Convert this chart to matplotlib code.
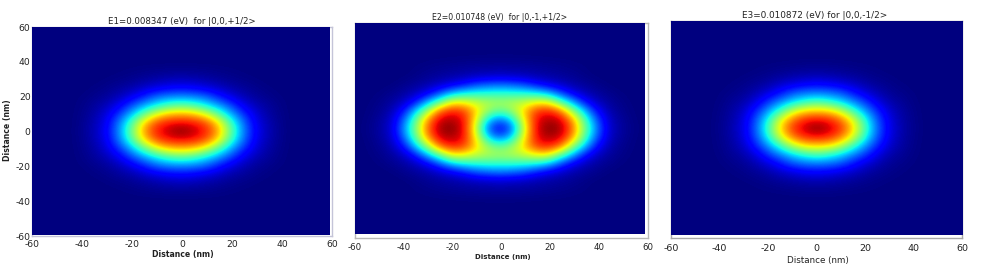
import numpy as np
import matplotlib
matplotlib.use("Agg")
import matplotlib.pyplot as plt

W, H = 981, 273

titles = ["E1=0.008347 (eV)  for |0,0,+1/2>",
          "E2=0.010748 (eV)  for |0,-1,+1/2>",
          "E3=0.010872 (eV) for |0,0,-1/2>"]
x_label = "Distance (nm)"
y_label = "Distance (nm)"
ticks = [-60, -40, -20, 0, 20, 40, 60]

# Upper-right quadrant of each map.
# Rows: y = 0, 5, ... nm; columns: x = 0, 5, ... nm. Beyond the table the map is 0.
e1_quadrant = [
    [1.00, .95, .88, .74, .48, .26, .11, .05, .015, 0],
    [.90, .885, .83, .67, .43, .24, .10, .045, .013, 0],
    [.72, .70, .61, .46, .30, .17, .08, .035, .01, 0],
    [.46, .43, .36, .28, .19, .10, .05, .025, .007, 0],
    [.26, .25, .22, .15, .09, .05, .025, .012, .004, 0],
    [.12, .11, .09, .065, .04, .025, .012, .005, 0, 0],
    [.05, .045, .035, .025, .015, .008, .004, 0, 0, 0],
    [.015, .014, .012, .008, .005, .002, 0, 0, 0, 0],
]
e2_quadrant = [
    [.10, .22, .60, .91, 1.00, .97, .80, .50, .25, .07, .03, .008],
    [.22, .34, .65, .90, .96, .93, .75, .45, .21, .065, .025, .005],
    [.46, .53, .69, .85, .88, .80, .54, .32, .13, .045, .016, .003],
    [.55, .56, .59, .64, .65, .46, .30, .14, .06, .028, .01, .002],
    [.40, .40, .39, .37, .31, .20, .105, .055, .03, .014, .004, 0],
    [.23, .215, .19, .135, .095, .065, .04, .025, .012, .002, 0, 0],
    [.065, .06, .053, .042, .034, .026, .018, .008, .001, 0, 0, 0],
    [.028, .027, .025, .022, .018, .014, .009, .004, 0, 0, 0, 0],
    [.006, .006, .005, .004, .003, .002, .001, 0, 0, 0, 0, 0],
]
e3_quadrant = [
    [1.00, .94, .86, .68, .43, .22, .09, .04, .012, 0],
    [.89, .87, .78, .61, .38, .20, .085, .035, .01, 0],
    [.68, .66, .57, .41, .27, .15, .065, .03, .008, 0],
    [.43, .39, .33, .25, .17, .085, .04, .02, .005, 0],
    [.24, .23, .20, .135, .08, .045, .02, .01, .003, 0],
    [.11, .10, .08, .06, .035, .02, .01, .004, 0, 0],
    [.04, .037, .03, .022, .013, .007, .003, 0, 0, 0],
    [.012, .012, .009, .006, .004, .002, 0, 0, 0, 0],
]
quadrants = [e1_quadrant, e2_quadrant, e3_quadrant]


def full_map(q):
    q = np.array(q, dtype=float)
    grid = np.zeros((13, 13))
    grid[:q.shape[0], :q.shape[1]] = q
    top = np.hstack([grid[:, :0:-1], grid])
    return np.vstack([top[:0:-1], top])


# px boxes: frame (l, r, t, b), image (l, r, t, b)
frames = [(32, 332, 27, 236), (355, 648, 23, 238), (671, 962, 21, 238)]
images = [(32, 330, 27, 235), (355, 645, 23, 234), (671, 962, 21, 235)]
title_y = [21, 18, 15]
title_x = [182, 500, 815]
title_fs = [6.2, 5.6, 6.4]
xlabel_y = [254, 257, 261]
xlabel_fs = [5.6, 5.0, 6.3]
tick_fs = [6.6, 6.2, 6.8]
tick_pad = [3.0, 3.6, 4.6]
frame_col = ["#c4c4d8", "#b8b8b8", "#a8a8a8"]


def rect(box):
    l, r, t, b = box
    return [l / W, 1 - b / H, (r - l) / W, (b - t) / H]


plt.rcParams["font.family"] = "DejaVu Sans"
plt.rcParams["axes.unicode_minus"] = False
fig = plt.figure(figsize=(W / 100, H / 100), dpi=100, facecolor="white")
dark = "#222222"

for i in range(3):
    fr = fig.add_axes(rect(frames[i]))
    fr.set_xlim(-60, 60)
    fr.set_ylim(-60, 60)
    fr.set_xticks(ticks)
    fr.tick_params(axis="x", length=0, labelsize=tick_fs[i], pad=tick_pad[i], colors=dark)
    if i == 0:
        fr.set_yticks(ticks)
        fr.tick_params(axis="y", length=0, labelsize=tick_fs[i], pad=1, colors=dark)
    else:
        fr.set_yticks([])
    for s in fr.spines.values():
        s.set_color(frame_col[i])
        s.set_linewidth(1.0)

    im = fig.add_axes(rect(images[i]))
    im.imshow(full_map(quadrants[i]), cmap="jet", vmin=0, vmax=1,
              origin="lower", extent=(-62.5, 62.5, -62.5, 62.5), aspect="auto",
              interpolation="bicubic", interpolation_stage="data")
    im.set_xlim(-60, 60)
    im.set_ylim(-60, 60)
    im.axis("off")

    fig.text(title_x[i] / W, 1 - title_y[i] / H, titles[i], ha="center", va="center",
             fontsize=title_fs[i], color=dark)
    fig.text(((frames[i][0] + frames[i][1]) / 2 + 1) / W, 1 - xlabel_y[i] / H, x_label,
             ha="center", va="center", fontsize=xlabel_fs[i], color=dark,
             fontweight="bold" if i < 2 else "normal")

fig.text(8 / W, 1 - 130 / H, y_label, rotation=90, ha="center", va="center",
         fontsize=5.6, color=dark, fontweight="bold")

fig.savefig("out.png", dpi=100)
